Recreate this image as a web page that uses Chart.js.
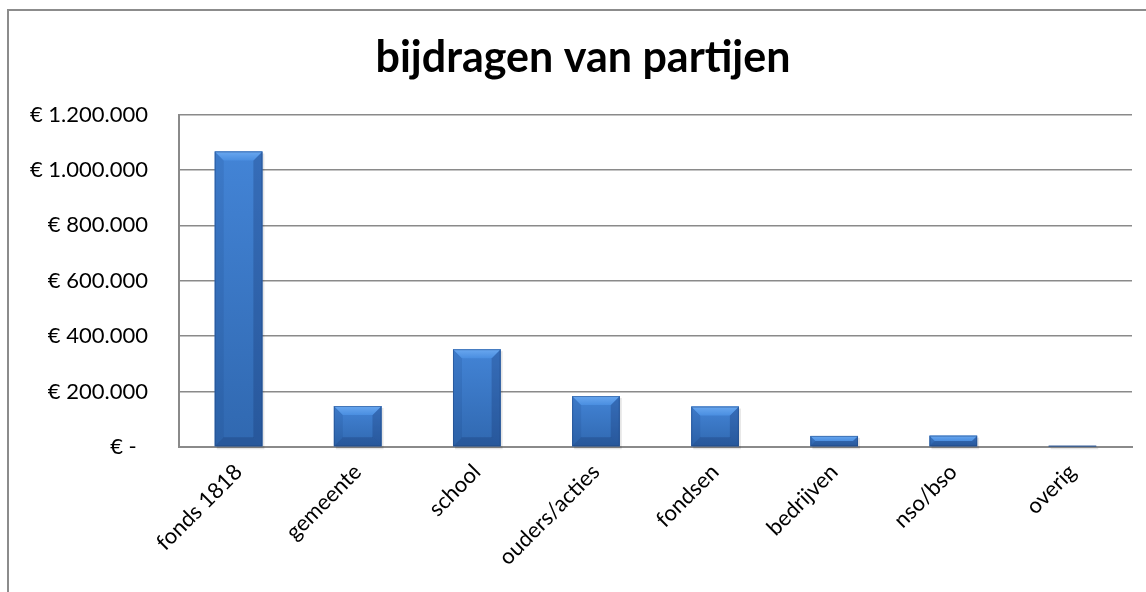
<!DOCTYPE html>
<html>
<head>
<meta charset="utf-8">
<script src="https://cdn.jsdelivr.net/npm/chart.js@4"></script>
<style>
  html, body { margin: 0; padding: 0; background: #ffffff; overflow: hidden; }
  #frame { position: absolute; left: 7px; top: 9px; width: 2000px; height: 2000px;
           border-left: 2px solid #8c8c8c; border-top: 2px solid #8c8c8c; }
  #wrap { position: absolute; left: 0; top: 0; width: 1146px; height: 592px; }
</style>
</head>
<body>
<div id="frame"></div>
<div id="wrap"><canvas id="c" width="1146" height="592"></canvas></div>
<script>
const categories = ["fonds 1818", "gemeente", "school", "ouders/acties", "fondsen", "bedrijven", "nso/bso", "overig"];
const values = [1067000, 148000, 353000, 184000, 146000, 40000, 41000, 4000];
const yMax = 1200000;
const yStep = 200000;

function fmtEuro(v) {
  if (v === 0) return "€ -  ";
  const s = Math.round(v).toString().replace(/\B(?=(\d{3})+(?!\d))/g, ".");
  return "€ " + s;
}

const titleShift = {
  id: "titleShift",
  afterLayout(chart) {
    if (chart.titleBlock) { chart.titleBlock.left += 34; }
  }
};

const bevelPlugin = {
  id: "bevel",
  afterDatasetsDraw(chart) {
    const ctx = chart.ctx;
    const meta = chart.getDatasetMeta(0);
    meta.data.forEach(el => {
      const p = el.getProps(["x", "y", "base", "width"], true);
      const l = p.x - p.width / 2, r = p.x + p.width / 2;
      const t = Math.min(p.y, p.base), b = Math.max(p.y, p.base);
      const h = b - t;
      const bv = Math.min(9, h / 2);
      ctx.save();
      ctx.fillStyle = "rgba(0,0,0,0.10)";
      ctx.fillRect(l + 2, t + 2, p.width, h + 1);
      const g = ctx.createLinearGradient(0, t, 0, b);
      g.addColorStop(0, "#4384d6");
      g.addColorStop(1, "#3068b0");
      ctx.fillStyle = g;
      ctx.fillRect(l, t, p.width, h);
      ctx.fillStyle = "rgba(20,50,110,0.12)";
      ctx.beginPath(); ctx.moveTo(l, t); ctx.lineTo(l + bv, t + bv); ctx.lineTo(l + bv, b - bv); ctx.lineTo(l, b); ctx.closePath(); ctx.fill();
      ctx.fillStyle = "rgba(15,40,95,0.25)";
      ctx.beginPath(); ctx.moveTo(r, t); ctx.lineTo(r - bv, t + bv); ctx.lineTo(r - bv, b - bv); ctx.lineTo(r, b); ctx.closePath(); ctx.fill();
      const gt = ctx.createLinearGradient(0, t, 0, t + bv);
      gt.addColorStop(0, "#6aa8f0");
      gt.addColorStop(1, "#4a8ee0");
      ctx.fillStyle = gt;
      ctx.beginPath(); ctx.moveTo(l, t); ctx.lineTo(r, t); ctx.lineTo(r - bv, t + bv); ctx.lineTo(l + bv, t + bv); ctx.closePath(); ctx.fill();
      ctx.fillStyle = "rgba(15,40,90,0.25)";
      ctx.beginPath(); ctx.moveTo(l, b); ctx.lineTo(r, b); ctx.lineTo(r - bv, b - bv); ctx.lineTo(l + bv, b - bv); ctx.closePath(); ctx.fill();
      ctx.strokeStyle = "rgba(30,70,130,0.5)";
      ctx.lineWidth = 1;
      ctx.strokeRect(l + 0.5, t + 0.5, p.width - 1, h - 1);
      ctx.restore();
    });
  }
};

new Chart(document.getElementById("c"), {
  type: "bar",
  data: {
    labels: categories,
    datasets: [{
      data: values,
      backgroundColor: "#3a77c6",
      borderWidth: 0,
      barPercentage: 0.40,
      categoryPercentage: 1.0
    }]
  },
  options: {
    responsive: false,
    animation: false,
    layout: { padding: { left: 0, right: 14, top: 0, bottom: 0 } },
    plugins: {
      legend: { display: false },
      tooltip: { enabled: false },
      title: {
        display: true,
        text: "bijdragen van partijen",
        color: "#000000",
        font: { family: "Lato", size: 43, weight: "bold", lineHeight: 1.2 },
        padding: { top: 32, bottom: 31 }
      }
    },
    scales: {
      y: {
        min: 0,
        max: yMax,
        afterFit(scale) { scale.width = 179; },
        ticks: {
          stepSize: yStep,
          color: "#000000",
          font: { family: "Lato", size: 22 },
          padding: 31,
          callback: v => fmtEuro(v)
        },
        grid: { color: "#8a8a8a", lineWidth: 1.5, drawTicks: false },
        border: { display: true, color: "#8a8a8a", width: 2 }
      },
      x: {
        afterFit(scale) { scale.height = 145; },
        ticks: {
          color: "#000000",
          font: { family: "Lato", size: 22 },
          minRotation: 45,
          maxRotation: 45,
          padding: 12
        },
        grid: { display: false, drawTicks: false },
        border: { display: true, color: "#8a8a8a", width: 2 }
      }
    }
  },
  plugins: [titleShift, bevelPlugin]
});
</script>
</body>
</html>
